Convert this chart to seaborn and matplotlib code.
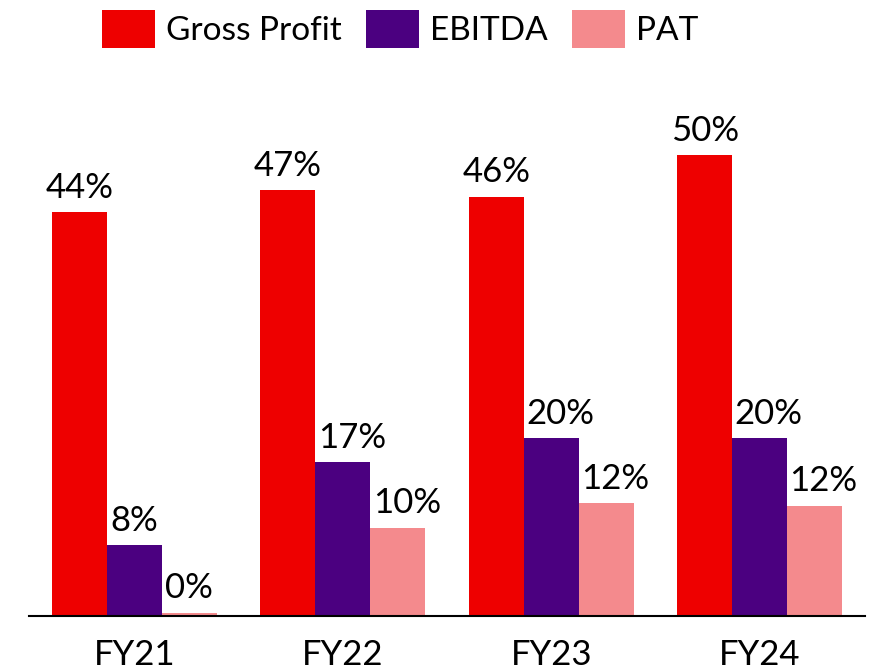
"""Margin comparison bar chart (Gross Profit / EBITDA / PAT)."""

import matplotlib
matplotlib.use("Agg")

import matplotlib.pyplot as plt
import pandas as pd
import seaborn as sns

# ── data ────────────────────────────────────────────────────────────────
years = ["FY21", "FY22", "FY23", "FY24"]
series = ["Gross Profit", "EBITDA", "PAT"]
gross_profit = [44.1, 46.5, 45.8, 50.3]
ebitda = [7.7, 16.8, 19.4, 19.4]
pat = [0.3, 9.6, 12.3, 12.0]
gp_labels = ["44%", "47%", "46%", "50%"]
ebitda_labels = ["8%", "17%", "20%", "20%"]
pat_labels = ["0%", "10%", "12%", "12%"]

colors = {"Gross Profit": "#EE0000", "EBITDA": "#4B0080", "PAT": "#F48A8D"}

df = pd.DataFrame({
    "year": years * 3,
    "metric": [s for s in series for _ in years],
    "value": gross_profit + ebitda + pat,
})

# ── style ───────────────────────────────────────────────────────────────
sns.set_theme(style="white")
plt.rcParams["font.family"] = ["Lato", "DejaVu Sans"]
plt.rcParams["text.color"] = "black"
FS = 25

fig = plt.figure(figsize=(8.76, 6.71), dpi=100)
ax = fig.add_axes([29 / 876, (671 - 615.5) / 671, 836 / 876, 503 / 671])

sns.barplot(data=df, x="year", y="value", hue="metric", order=years,
            hue_order=series, palette=colors, width=0.79, saturation=1,
            linewidth=0, ax=ax, legend=False)

# Excel-style labels: two-digit labels on the narrow series sit a bit right
for i, (cont, labels) in enumerate(zip(ax.containers, [gp_labels, ebitda_labels, pat_labels])):
    for bar, lab in zip(cont, labels):
        dx = 6.5 if (i > 0 and len(lab) > 2) else 0
        ax.annotate(lab, (bar.get_x() + bar.get_width() / 2, bar.get_height()),
                    xytext=(dx, 6), textcoords="offset points",
                    ha="center", va="bottom", fontsize=FS, color="black")

ax.set_xlim(-0.505, 3.505)
ax.set_ylim(0, 55)
ax.set_xlabel("")
ax.set_ylabel("")
ax.set_yticks([])
ax.tick_params(axis="x", length=0, pad=17, labelsize=FS, colors="black")
for side in ["top", "right", "left"]:
    ax.spines[side].set_visible(False)
ax.spines["bottom"].set_color("black")
ax.spines["bottom"].set_linewidth(1.5)

handles = [plt.Rectangle((0, 0), 1, 1, color=colors[s], linewidth=0) for s in series]
fig.legend(handles, series, loc="center", bbox_to_anchor=(400 / 876, 1 - 29 / 671),
           ncol=3, frameon=False, fontsize=24, handlelength=1.6,
           handleheight=1.35, handletextpad=0.33, columnspacing=0.72,
           borderpad=0, borderaxespad=0)

fig.savefig("out.png", dpi=100)
plt.close(fig)
